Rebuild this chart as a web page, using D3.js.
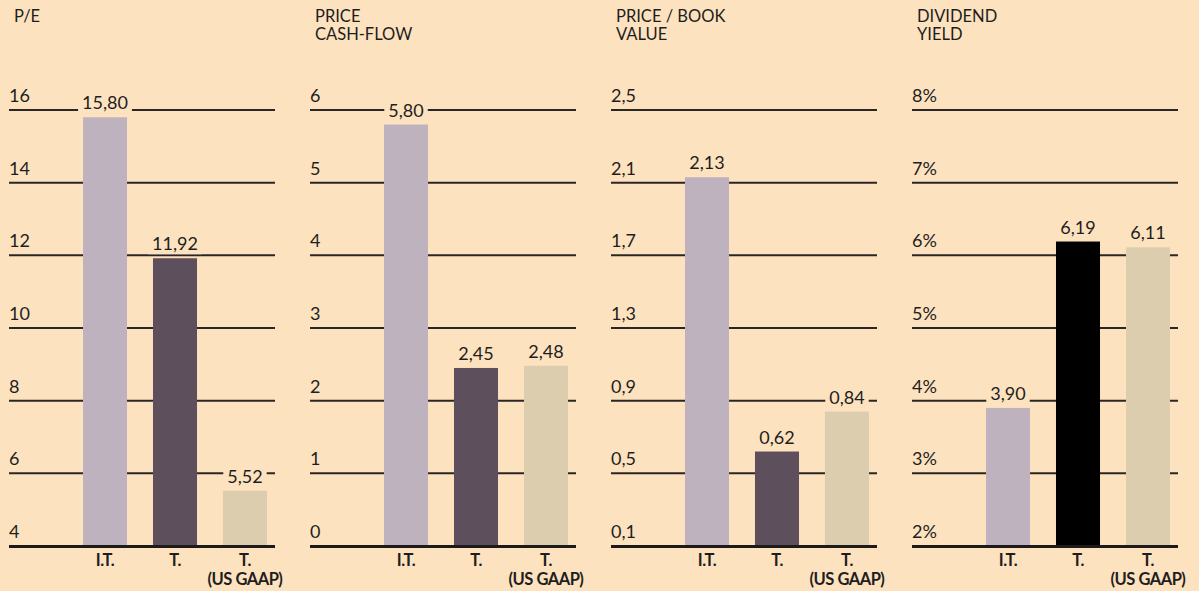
<!DOCTYPE html>
<html><head><meta charset="utf-8">
<script src="https://cdn.jsdelivr.net/npm/d3@7"></script>
<style>
html,body{margin:0;padding:0;background:#fde2bf;}
svg{display:block;}
text{font-family:Lato,"Open Sans",sans-serif;fill:#1e1e1e;}
</style></head>
<body>
<svg id="chart" width="1199" height="591"></svg>
<script>
// ---- data ----
const categories = ["I.T.", "T.", "T. (US GAAP)"];
const titles = [["P/E"], ["PRICE", "CASH-FLOW"], ["PRICE / BOOK", "VALUE"], ["DIVIDEND", "YIELD"]];
const peValues = [15.80, 11.92, 5.52];
const pcfValues = [5.80, 2.45, 2.48];
const pbvValues = [2.13, 0.62, 0.84];
const dyValues = [3.90, 6.19, 6.11];
const peTicks = [4, 6, 8, 10, 12, 14, 16];
const pcfTicks = [0, 1, 2, 3, 4, 5, 6];
const pbvTicks = [0.1, 0.5, 0.9, 1.3, 1.7, 2.1, 2.5];
const dyTicks = [2, 3, 4, 5, 6, 7, 8];
const peTickLabels = ["4", "6", "8", "10", "12", "14", "16"];
const pcfTickLabels = ["0", "1", "2", "3", "4", "5", "6"];
const pbvTickLabels = ["0,1", "0,5", "0,9", "1,3", "1,7", "2,1", "2,5"];
const dyTickLabels = ["2%", "3%", "4%", "5%", "6%", "7%", "8%"];

const panels = [
  {x0: 9, title: titles[0], values: peValues, ticks: peTicks, tickLabels: peTickLabels, colors: ["#bdb2be", "#5e4f5c", "#dccdae"]},
  {x0: 310, title: titles[1], values: pcfValues, ticks: pcfTicks, tickLabels: pcfTickLabels, colors: ["#bdb2be", "#5e4f5c", "#dccdae"]},
  {x0: 611, title: titles[2], values: pbvValues, ticks: pbvTicks, tickLabels: pbvTickLabels, colors: ["#bdb2be", "#5e4f5c", "#dccdae"]},
  {x0: 912, title: titles[3], values: dyValues, ticks: dyTicks, tickLabels: dyTickLabels, colors: ["#bdb2be", "#000000", "#dccdae"]}
];

const bg = "#fde2bf";
const svg = d3.select("#chart");
const panelW = 266, yTop = 110, yBot = 546;
const fmt = v => d3.format(".2f")(v).replace(".", ",");

panels.forEach(p => {
  const g = svg.append("g");
  const y = d3.scaleLinear().domain([p.ticks[0], p.ticks[p.ticks.length - 1]]).range([yBot, yTop]);
  const x = d3.scaleBand().domain(categories).range([p.x0 + 74, p.x0 + 258]).paddingInner(0.371).paddingOuter(0);

  // title
  p.title.forEach((t, i) => {
    g.append("text").attr("x", p.x0 + 5).attr("y", 22 + i * 18)
      .attr("font-size", 16.5).attr("fill", "#2a2a2a").text(t);
  });

  // gridlines + tick labels
  const gl = g.append("g");
  p.ticks.forEach((t, i) => {
    if (i > 0) {
      gl.append("line").attr("x1", p.x0).attr("x2", p.x0 + panelW)
        .attr("y1", y(t)).attr("y2", y(t)).attr("stroke", "#2a2626").attr("stroke-width", 2);
    }
    gl.append("text").attr("x", p.x0).attr("y", y(t) - 8)
      .attr("font-size", 18).text(p.tickLabels[i]);
  });

  // bars
  g.selectAll("rect.bar").data(p.values).join("rect").attr("class", "bar")
    .attr("x", (d, i) => x(categories[i])).attr("width", x.bandwidth())
    .attr("y", d => y(d)).attr("height", d => yBot - y(d))
    .attr("fill", (d, i) => p.colors[i]);

  // baseline
  g.append("line").attr("x1", p.x0).attr("x2", p.x0 + panelW)
    .attr("y1", yBot + 0.5).attr("y2", yBot + 0.5).attr("stroke", "#1e1a1a").attr("stroke-width", 3);

  // value labels with background knock-out
  p.values.forEach((v, i) => {
    const cx = x(categories[i]) + x.bandwidth() / 2;
    const lg = g.append("g");
    const rect = lg.append("rect").attr("fill", bg);
    const t = lg.append("text").attr("x", cx).attr("y", y(v) - 8)
      .attr("text-anchor", "middle").attr("font-size", 18).text(fmt(v));
    const b = t.node().getBBox();
    rect.attr("x", b.x - 4).attr("y", b.y).attr("width", b.width + 8).attr("height", b.height);
  });

  // category labels
  categories.forEach((c, i) => {
    const cx = x(c) + x.bandwidth() / 2;
    const parts = c === "T. (US GAAP)" ? ["T.", "(US GAAP)"] : [c];
    parts.forEach((s, j) => {
      g.append("text").attr("x", cx).attr("y", 566 + j * 19)
        .attr("text-anchor", "middle").attr("font-size", 16.5)
        .attr("font-weight", "bold").attr("letter-spacing", -0.5).text(s);
    });
  });
});
</script>
</body></html>
